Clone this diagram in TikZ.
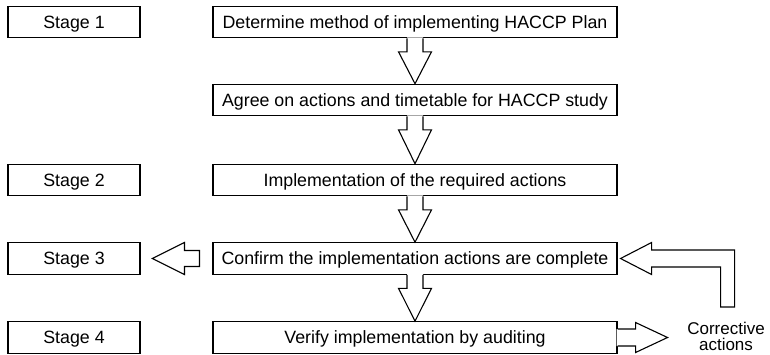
\documentclass[tikz,border=0pt]{standalone}
\usepackage{fontspec}
\setmainfont{Liberation Sans}
\usetikzlibrary{calc}

% Hollow block arrow pointing down from one box to the next,
% opening into the bottom edge of the upper box.
\newcommand\flowdown[2]{%
  \fill[white] ($(#1.south)+(-8,-1)$) -- ($(#1.south)+(-8,13.5)$)
    -- ($(#1.south)+(-16.5,13.5)$) -- (#1.south |- #2.north)
    -- ($(#1.south)+(16.5,13.5)$) -- ($(#1.south)+(8,13.5)$)
    -- ($(#1.south)+(8,-1)$) -- cycle;
  \draw[arrowline] ($(#1.south)+(-8,0)$) -- ($(#1.south)+(-8,13.5)$)
    -- ($(#1.south)+(-16.5,13.5)$) -- (#1.south |- #2.north)
    -- ($(#1.south)+(16.5,13.5)$) -- ($(#1.south)+(8,13.5)$)
    -- ($(#1.south)+(8,0)$);
}

\begin{document}
\begin{tikzpicture}[x=1pt,y=-1pt,
  box/.style={draw, line width=1.1pt, minimum height=31.5pt, inner sep=0pt,
    text height=12.7pt, text depth=0pt, font=\fontsize{17.8}{20}\selectfont},
  stagebox/.style={box, minimum width=132pt},
  mainbox/.style={box, minimum width=404pt},
  arrowline/.style={line width=1.1pt, line join=miter}]
\useasboundingbox (0,0) rectangle (770,354);

% stage labels
\node[stagebox] (s1) at (74,22)    {Stage 1};
\node[stagebox] (s2) at (74,180)   {Stage 2};
\node[stagebox] (s3) at (74,258.5) {Stage 3};
\node[stagebox] (s4) at (74,337.5) {Stage 4};

% process steps
\node[mainbox] (m1) at (415,22)    {Determine method of implementing HACCP Plan};
\node[mainbox] (m2) at (415,100)   {Agree on actions and timetable for HACCP study};
\node[mainbox] (m3) at (415,180)   {Implementation of the required actions};
\node[mainbox] (m4) at (415,258.5) {Confirm the implementation actions are complete};
\node[mainbox] (m5) at (415,337.5) {Verify implementation by auditing};

\node[font=\fontsize{17}{16.5}\selectfont, align=center, inner sep=0pt]
  (corr) at (726,336.5) {Corrective\\actions};

% downward flow
\flowdown{m1}{m2}
\flowdown{m2}{m3}
\flowdown{m3}{m4}
\flowdown{m4}{m5}

% arrow towards Stage 3
\draw[arrowline] ($(m4.west)+(-13,-8)$) -- ($(m4.west)+(-28,-8)$)
  -- ($(m4.west)+(-28,-16)$) -- ($(m4.west)+(-60,0)$)
  -- ($(m4.west)+(-28,16)$) -- ($(m4.west)+(-28,8)$)
  -- ($(m4.west)+(-13,8)$) -- cycle;

% arrow from verification to corrective actions
\fill[white] ($(m5.east)+(-1,-8.5)$) -- ($(m5.east)+(18,-8.5)$)
  -- ($(m5.east)+(18,-15)$) -- ($(m5.east)+(50,0)$)
  -- ($(m5.east)+(18,15)$) -- ($(m5.east)+(18,8.5)$)
  -- ($(m5.east)+(-1,8.5)$) -- cycle;
\draw[arrowline] ($(m5.east)+(0,-8.5)$) -- ($(m5.east)+(18,-8.5)$)
  -- ($(m5.east)+(18,-15)$) -- ($(m5.east)+(50,0)$)
  -- ($(m5.east)+(18,15)$) -- ($(m5.east)+(18,8.5)$)
  -- ($(m5.east)+(0,8.5)$);

% bent return arrow from corrective actions back to confirmation
\draw[arrowline] ($(m4.east)+(3,0)$) -- ($(m4.east)+(34,-16)$)
  -- ($(m4.east)+(34,-8.5)$) -- ($(m4.east)+(117,-8.5)$)
  -- ($(m4.east)+(117,48.5)$) -- ($(m4.east)+(103,48.5)$)
  -- ($(m4.east)+(103,8.5)$) -- ($(m4.east)+(34,8.5)$)
  -- ($(m4.east)+(34,16)$) -- cycle;
\end{tikzpicture}
\end{document}
